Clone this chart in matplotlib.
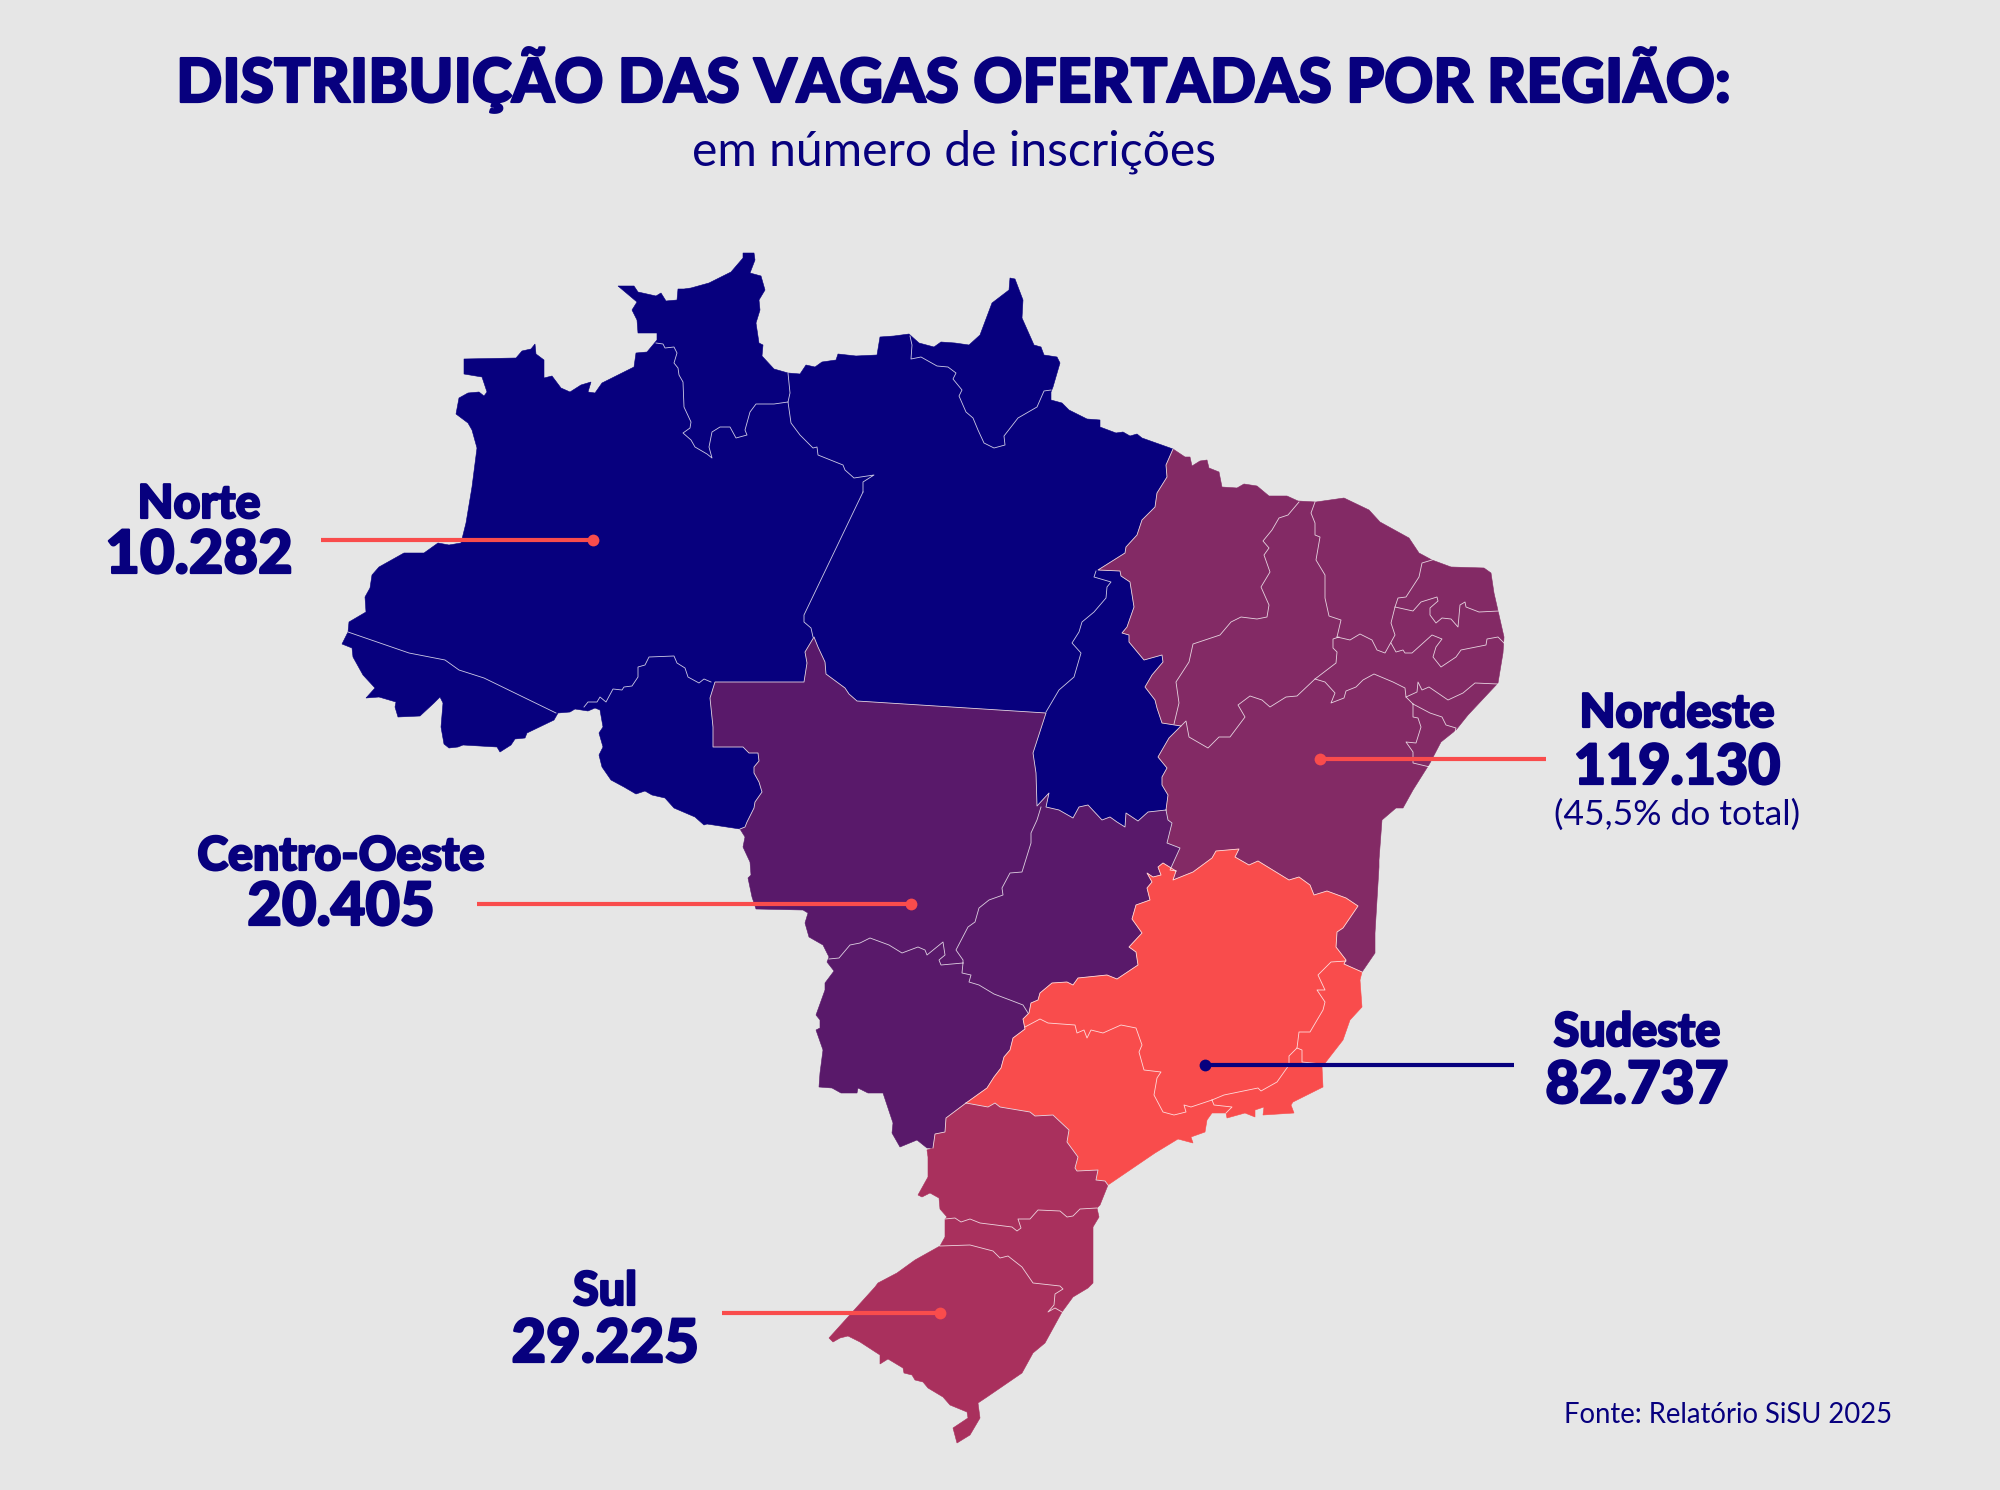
import matplotlib
matplotlib.use('Agg')
import matplotlib.pyplot as plt
import matplotlib.patheffects as pe

# Region names and values
region_names = ['Norte', 'Centro-Oeste', 'Nordeste', 'Sudeste', 'Sul']
region_values = ['10.282', '20.405', '119.130', '82.737', '29.225']
nordeste_share = '(45,5% do total)'

BG = '#E6E6E6'
NAVY = '#07007E'
PLUM = '#832A65'
PURPLE = '#59196A'
CORAL = '#F94C4C'
ROSE = '#A9305D'

# Outlines in pixels, each piece shared by its two regions
norte_coast = [(348,632),(349,622),(366,612),(365,597),(370,588),(372,575),(379,567),(404,553),(424,553),(438,543),(449,545),(461,543),(466,523),(472,487),(477,448),(472,430),(468,423),(456,414),(459,398),(468,393),(479,392),(484,396),(487,392),(482,377),(464,374),(464,359),(516,358),(522,351),(531,349),(535,344),(536,354),(544,360),(544,378),(552,376),(561,388),(570,392),(581,385),(591,382),(588,392),(595,393),(602,383),(634,367),(636,353),(647,352),(657,340),(657,333),(638,333),(637,320),(632,310),(637,302),(618,286),(634,286),(638,292),(656,296),(661,293),(666,301),(677,300),(678,289),(684,289),(691,288),(709,283),(731,272),(743,258),(743,253),(754,253),(755,260),(750,273),(761,276),(765,290),(759,300),(760,310),(756,323),(759,343),(763,345),(762,356),(774,369),(788,373),(800,374),(806,365),(815,367),(822,362),(836,360),(838,354),(856,356),(877,355),(880,337),(894,336),(909,334),(919,343),(934,347),(941,342),(955,343),(969,345),(980,335),(992,303),(1009,290),(1010,278),(1015,279),(1023,300),(1022,318),(1034,345),(1041,347),(1044,355),(1057,357),(1060,363),(1053,387),(1051,392),(1051,400),(1062,403),(1069,410),(1087,419),(1100,420),(1100,427),(1116,433),(1123,432),(1130,436),(1137,434),(1142,438),(1173,449)]
norte_nordeste = [(1173,449),(1166,465),(1167,477),(1157,493),(1155,507),(1142,520),(1137,535),(1126,547),(1125,553),(1098,570),(1120,571),(1121,576),(1130,582),(1134,607),(1127,627),(1122,633),(1129,635),(1129,642),(1144,660),(1162,655),(1163,662),(1152,675),(1145,687),(1155,700),(1157,708),(1162,723),(1181,726),(1169,738),(1158,757),(1167,768),(1162,777),(1162,785),(1168,795),(1166,810)]
norte_centro = [(1166,810),(1148,812),(1138,821),(1126,813),(1125,827),(1117,822),(1110,817),(1102,820),(1088,805),(1079,807),(1073,818),(1059,810),(1046,807),(1049,793),(1037,806),(1036,773),(1033,753),(1046,713),(857,701),(849,694),(845,688),(826,674),(825,662),(818,647),(814,637),(805,652),(807,663),(804,682),(715,682),(710,698),(713,727),(713,747),(743,747),(749,753),(758,753),(759,761),(754,767),(754,773),(759,782),(762,792),(755,802),(754,808),(747,822),(745,827),(740,829)]
norte_south = [(740,829),(707,824),(704,825),(695,817),(674,808),(665,798),(652,795),(645,791),(636,794),(624,787),(611,780),(602,767),(599,755),(603,747),(599,733),(603,727),(600,710),(595,708),(588,711),(575,709),(570,712),(558,713),(554,720),(527,733),(525,738),(515,739),(511,745),(500,752),(497,747),(463,745),(458,747),(449,748),(444,744),(441,727),(443,703),(440,697),(434,703),(420,716),(398,717),(395,707),(396,702),(379,697),(366,698),(375,688),(363,675),(353,657),(352,648),(342,644),(348,632)]
nordeste_coast = [(1173,449),(1185,457),(1190,457),(1192,466),(1200,461),(1207,460),(1209,468),(1219,472),(1222,487),(1237,488),(1244,484),(1257,486),(1269,496),(1287,496),(1298,501),(1316,502),(1344,498),(1369,510),(1380,522),(1409,538),(1419,553),(1432,560),(1451,567),(1484,568),(1491,573),(1494,593),(1504,637),(1503,653),(1498,683),(1468,715),(1456,730),(1441,742),(1430,763),(1413,790),(1403,808),(1396,808),(1382,820),(1379,860),(1379,867),(1375,933),(1375,953),(1362,972)]
nordeste_sudeste = [(1362,972),(1344,964),(1346,960),(1336,947),(1337,932),(1343,928),(1358,906),(1346,898),(1327,891),(1314,895),(1310,885),(1299,877),(1289,880),(1258,861),(1249,865),(1235,857),(1239,849),(1216,851),(1212,858),(1193,872),(1173,880),(1176,871)]
nordeste_centro = [(1176,871),(1170,870),(1180,848),(1167,843),(1172,823),(1168,820),(1166,810)]
centro_sudeste = [(1176,871),(1163,863),(1158,867),(1161,875),(1153,877),(1147,873),(1152,882),(1147,888),(1150,900),(1136,905),(1132,919),(1142,933),(1129,947),(1136,952),(1138,965),(1117,979),(1107,975),(1078,978),(1073,985),(1067,982),(1052,983),(1040,993),(1038,1000),(1031,1003),(1029,1013),(1023,1019),(1025,1029),(1013,1038),(1010,1050),(1004,1057),(1001,1068),(994,1077),(987,1088),(966,1103)]
centro_sul = [(966,1103),(946,1118),(945,1132),(935,1134),(933,1148)]
centro_coast = [(933,1148),(927,1148),(917,1140),(900,1147),(892,1133),(893,1123),(883,1093),(868,1093),(858,1088),(857,1093),(841,1093),(832,1088),(819,1087),(820,1073),(823,1050),(816,1030),(820,1028),(820,1020),(816,1015),(825,990),(825,983),(834,971),(827,962),(829,957),(823,945),(809,937),(805,923),(808,913),(803,910),(756,909),(752,897),(748,878),(751,875),(750,862),(743,847),(745,837),(740,829)]
sudeste_coast = [(1362,972),(1360,980),(1362,1007),(1350,1020),(1343,1040),(1322,1067),(1323,1087),(1293,1102),(1291,1105),(1294,1113),(1263,1115),(1264,1107),(1255,1110),(1255,1117),(1245,1113),(1227,1118),(1226,1113),(1212,1113),(1207,1120),(1205,1132),(1191,1137),(1193,1143),(1178,1139),(1155,1153),(1108,1185)]
sudeste_sul = [(1108,1185),(1105,1181),(1096,1180),(1098,1170),(1077,1171),(1075,1168),(1078,1157),(1067,1142),(1069,1130),(1053,1115),(1035,1116),(1030,1112),(1000,1107),(995,1103),(988,1107),(966,1103)]
sul_coast = [(1108,1185),(1100,1205),(1097,1208),(1099,1217),(1093,1227),(1093,1283),(1088,1288),(1073,1297),(1062,1312),(1045,1343),(1033,1353),(1022,1373),(987,1397),(978,1403),(980,1418),(970,1435),(957,1443),(953,1428),(968,1418),(967,1412),(950,1405),(943,1397),(928,1388),(923,1382),(915,1380),(912,1375),(904,1373),(903,1368),(893,1362),(888,1359),(880,1364),(880,1355),(860,1342),(848,1336),(840,1338),(833,1342),(829,1338),(875,1287),(878,1283),(897,1273),(915,1260),(940,1246),(945,1237),(945,1219),(947,1217),(940,1209),(939,1198),(930,1193),(922,1197),(918,1195),(928,1177),(928,1157),(927,1150),(933,1148)]

# State borders inside the regions
state_lines = [
    [(348,632),(409,653),(445,660),(459,670),(484,678),(556,713)],
    [(584,707),(588,702),(597,702),(600,697),(606,702),(613,689),(622,690),(624,687),(632,686),(638,677),(638,667),(645,665),(649,657),(674,656),(677,663),(685,668),(688,677),(699,683),(704,679),(711,682)],
    [(863,492),(804,615),(804,622),(811,628),(813,637)],
    [(788,373),(790,393),(788,402),(791,423),(800,435),(813,448),(817,447),(818,455),(838,463),(843,465),(845,470),(854,478),(874,475),(863,482),(863,492)],
    [(656,343),(663,344),(665,348),(674,347),(677,353),(674,363),(678,368),(679,375),(683,382),(684,407),(691,422),(690,428),(683,433),(691,440),(695,447),(707,454),(712,458),(709,447),(712,432),(720,427),(730,427),(736,438),(747,435),(745,430),(750,412),(756,404),(774,404),(788,402)],
    [(910,336),(912,345),(911,359),(921,357),(937,366),(948,367),(956,373),(953,379),(962,390),(959,396),(966,412),(973,418),(978,430),(984,443),(994,448),(1005,445),(1004,436),(1018,418),(1037,407),(1044,391),(1051,390)],
    [(1096,571),(1094,577),(1111,582),(1107,587),(1106,598),(1094,612),(1082,622),(1079,632),(1072,643),(1081,653),(1074,677),(1059,690),(1046,712)],
    [(1299,502),(1288,515),(1279,518),(1272,530),(1263,541),(1269,548),(1264,555),(1270,572),(1261,587),(1269,605),(1267,617),(1257,619),(1241,617),(1231,622),(1220,635),(1193,644),(1189,662),(1176,682),(1179,703),(1174,724)],
    [(1181,726),(1186,721),(1189,737),(1208,748),(1219,737),(1230,737),(1245,717),(1238,705),(1250,696),(1262,700),(1270,707),(1286,697),(1297,696),(1315,679),(1336,663),(1337,652),(1333,648),(1333,639),(1339,637)],
    [(1315,502),(1311,513),(1315,523),(1315,535),(1320,537),(1316,560),(1325,575),(1325,598),(1329,616),(1341,620),(1337,637)],
    [(1337,637),(1350,640),(1360,634),(1372,640),(1377,650),(1385,653),(1395,635),(1391,623),(1395,607),(1398,598),(1406,597),(1419,577),(1422,563),(1432,560)],
    [(1395,607),(1413,611),(1421,602),(1437,597),(1438,601),(1430,608),(1430,615),(1436,623),(1442,618),(1451,619),(1458,627),(1460,605),(1465,602),(1466,607),(1479,612),(1499,611)],
    [(1391,643),(1396,652),(1403,650),(1405,653),(1412,653),(1432,635),(1442,639),(1436,647),(1433,657),(1441,667),(1456,657),(1461,650),(1486,645),(1487,639),(1498,637),(1504,643)],
    [(1315,679),(1325,682),(1335,693),(1331,703),(1344,698),(1346,691),(1356,687),(1363,680),(1374,674),(1393,682),(1405,688),(1406,697),(1413,704)],
    [(1406,697),(1417,692),(1418,682),(1422,690),(1429,687),(1448,700),(1463,693),(1475,683),(1498,684)],
    [(1413,704),(1430,713),(1442,717),(1446,725),(1456,728),(1455,732)],
    [(1413,704),(1413,717),(1418,718),(1421,727),(1416,743),(1406,742),(1413,752),(1413,763),(1430,767)],
    [(1041,807),(1037,820),(1031,833),(1031,843),(1022,872),(1010,873),(1002,888),(1003,895),(989,900),(979,908),(975,922),(968,927),(956,950),(963,960),(963,963)],
    [(829,959),(839,958),(850,945),(860,943),(870,938),(889,945),(902,953),(918,947),(925,950),(927,955),(943,942),(945,955),(939,960),(941,965),(963,963)],
    [(963,963),(962,973),(971,975),(969,982),(979,985),(994,994),(1010,1000),(1023,1005),(1028,1013)],
    [(1025,1027),(1040,1019),(1048,1023),(1075,1025),(1077,1033),(1084,1030),(1087,1038),(1091,1030),(1103,1033),(1121,1025),(1136,1028),(1142,1045),(1139,1052),(1144,1070),(1161,1072),(1157,1078),(1154,1095),(1163,1112),(1174,1115),(1186,1112),(1184,1105),(1191,1107),(1212,1100)],
    [(1212,1100),(1224,1095),(1258,1088),(1261,1091),(1277,1082),(1289,1065),(1289,1056),(1297,1048),(1299,1032),(1310,1032),(1323,1010),(1325,1002),(1317,990),(1325,990),(1318,975),(1331,962),(1346,961)],
    [(1212,1100),(1214,1105),(1232,1107),(1226,1113)],
    [(1297,1048),(1302,1050),(1302,1062),(1322,1064)],
    [(945,1219),(955,1218),(961,1222),(970,1219),(980,1223),(1012,1227),(1017,1231),(1021,1228),(1018,1219),(1030,1219),(1038,1210),(1060,1211),(1067,1217),(1073,1216),(1080,1209),(1097,1208)],
    [(940,1246),(970,1245),(993,1251),(1000,1258),(1008,1256),(1022,1267),(1033,1283),(1060,1286),(1063,1289),(1055,1294),(1054,1305),(1048,1312),(1055,1308),(1062,1312)],
]

norte = norte_coast + norte_nordeste + norte_centro + norte_south
nordeste = nordeste_coast + nordeste_sudeste + nordeste_centro + norte_nordeste[::-1]
centro = norte_centro[::-1] + nordeste_centro[::-1] + centro_sudeste + centro_sul + centro_coast
sudeste = centro_sudeste[::-1] + nordeste_sudeste[::-1] + sudeste_coast + sudeste_sul
sul = sudeste_sul[::-1] + sul_coast + centro_sul[::-1]

fig = plt.figure(figsize=(20, 14.9), dpi=100, facecolor=BG)
ax = fig.add_axes([0, 0, 1, 1])
ax.set_xlim(0, 2000)
ax.set_ylim(1490, 0)
ax.axis('off')

for shape, color in [(norte, NAVY), (nordeste, PLUM), (centro, PURPLE), (sudeste, CORAL), (sul, ROSE)]:
    xs, ys = zip(*shape)
    ax.fill(xs, ys, color=color, lw=0.4)

# White borders, between regions and between states
shared = [norte_nordeste, norte_centro, nordeste_sudeste, nordeste_centro, centro_sudeste, centro_sul, sudeste_sul]
for line in shared + state_lines:
    xs, ys = zip(*line)
    ax.plot(xs, ys, color='white', lw=0.6, alpha=0.8, solid_joinstyle='round')

# Leader lines with their dots
leaders = [(321, 593, 540, CORAL), (477, 911, 904, CORAL), (1320, 1546, 759, CORAL),
           (1205, 1514, 1065, NAVY), (722, 940, 1313, CORAL)]
for x0, x1, y, color in leaders:
    ax.plot([x0, x1], [y, y], color=color, lw=3, solid_capstyle='butt')
dots = [(593, 540, CORAL), (911, 904, CORAL), (1320, 759, CORAL), (1205, 1065, NAVY), (940, 1313, CORAL)]
for x, y, color in dots:
    ax.plot(x, y, 'o', color=color, ms=8.5, mew=0)

FONT = 'Lato'
# Lato Bold is lighter than the original lettering, so thicken it a little
heavy = [pe.withStroke(linewidth=1.6, foreground=NAVY)]
ax.text(953, 102, 'DISTRIBUIÇÃO DAS VAGAS OFERTADAS POR REGIÃO:', ha='center', va='baseline',
        color=NAVY, family=FONT, weight='black', fontsize=43.6, path_effects=heavy)
ax.text(954, 165, 'em número de inscrições', ha='center', va='baseline',
        color=NAVY, family=FONT, fontsize=34.6)

label_x = [199, 341, 1677, 1637, 605]
name_y = [518, 870, 727, 1046, 1305]
value_y = [573, 925, 784, 1103, 1362]
value_size = [43, 43, 40, 42, 43]
for name, value, x, y0, y1, size in zip(region_names, region_values, label_x, name_y, value_y, value_size):
    ax.text(x, y0, name, ha='center', va='baseline', color=NAVY, family=FONT, weight='black',
            fontsize=33.5, path_effects=heavy)
    ax.text(x, y1, value, ha='center', va='baseline', color=NAVY, family=FONT, weight='black',
            fontsize=size, path_effects=heavy)
ax.text(1677, 825, nordeste_share, ha='center', va='baseline', color=NAVY, family=FONT, fontsize=25.5)
ax.text(1892, 1423, 'Fonte: Relatório SiSU 2025', ha='right', va='baseline', color=NAVY, family=FONT, fontsize=19.8)

fig.savefig('out.png', dpi=100, facecolor=BG)
